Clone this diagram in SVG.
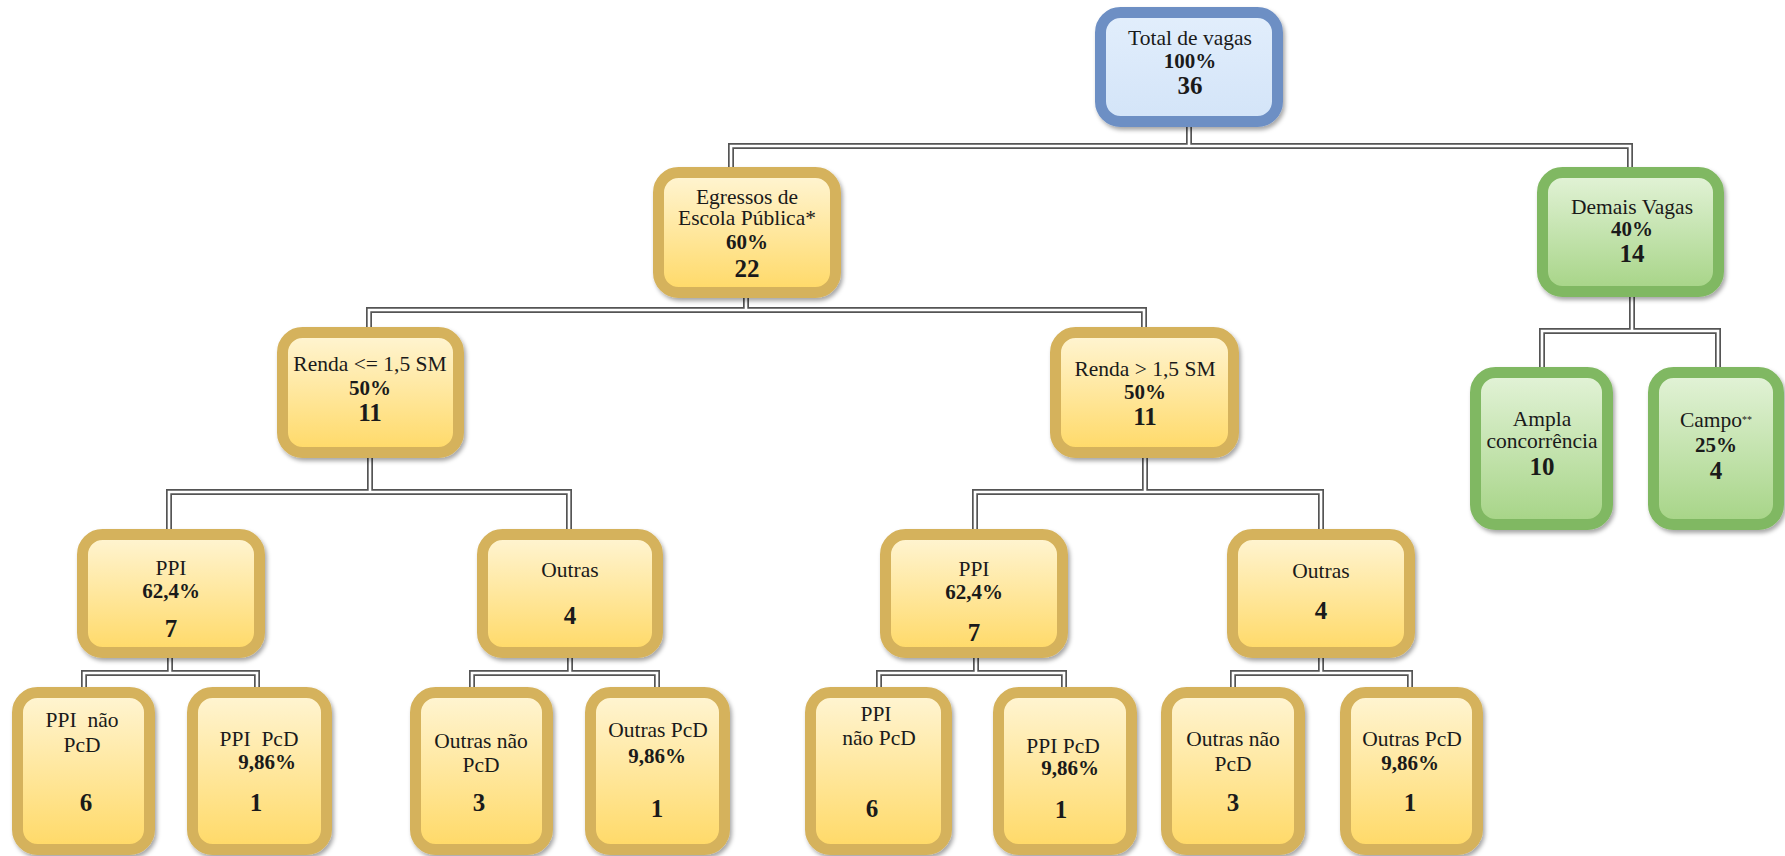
<svg xmlns="http://www.w3.org/2000/svg" width="1785" height="856" viewBox="0 0 1785 856">
<defs>
<linearGradient id="gGold" x1="0" y1="0" x2="0" y2="1"><stop offset="0" stop-color="#fff5d4"/><stop offset="1" stop-color="#ffd966"/></linearGradient>
<linearGradient id="gGreen" x1="0" y1="0" x2="0" y2="1"><stop offset="0" stop-color="#e3f3d8"/><stop offset="1" stop-color="#a6d486"/></linearGradient>
<linearGradient id="gBlue" x1="0" y1="0" x2="0" y2="1"><stop offset="0" stop-color="#e2eefc"/><stop offset="1" stop-color="#d3e4f8"/></linearGradient>
<filter id="sh" x="-10%" y="-10%" width="125%" height="125%"><feDropShadow dx="2" dy="3" stdDeviation="2" flood-color="#000" flood-opacity="0.35"/></filter>
</defs>
<style>
.gold{fill:url(#gGold);stroke:#d5b25c;stroke-width:11;filter:url(#sh)}
.green{fill:url(#gGreen);stroke:#80b862;stroke-width:11;filter:url(#sh)}
.blue{fill:url(#gBlue);stroke:#6d8fc4;stroke-width:11;filter:url(#sh)}
text{font-family:"Liberation Serif","Times New Roman",serif;fill:#1a1a1a;text-anchor:middle}
.l{font-size:21.5px}
.p{font-size:21px;font-weight:bold}
.n{font-size:25px;font-weight:bold}
.cd{fill:none;stroke:#555;stroke-width:6}
.cw{fill:none;stroke:#fff;stroke-width:2.6}
</style>
<rect width="1785" height="856" fill="#fff"/>
<g id="connectors">
<g class="cd">
<path d="M1189,127V146M731,167V146H1630V167"/>
<path d="M746,298V310M369,327V310H1144V327"/>
<path d="M1632,297V331M1542,367V331H1718V367"/>
<path d="M370,458V492M169,529V492H569V529"/>
<path d="M1145,458V492M975,529V492H1321V529"/>
<path d="M170,658V673M84,687V673H257V687"/>
<path d="M570,658V673M472,687V673H657V687"/>
<path d="M976,658V673M879,687V673H1064V687"/>
<path d="M1321,658V673M1233,687V673H1410V687"/>
</g>
<g class="cw">
<path d="M1189,127V146M731,167V146H1630V167"/>
<path d="M746,298V310M369,327V310H1144V327"/>
<path d="M1632,297V331M1542,367V331H1718V367"/>
<path d="M370,458V492M169,529V492H569V529"/>
<path d="M1145,458V492M975,529V492H1321V529"/>
<path d="M170,658V673M84,687V673H257V687"/>
<path d="M570,658V673M472,687V673H657V687"/>
<path d="M976,658V673M879,687V673H1064V687"/>
<path d="M1321,658V673M1233,687V673H1410V687"/>
</g>
</g>
<g id="root"><rect class="blue" x="1100.5" y="12.5" width="177" height="109" rx="20"/>
<text class="l" x="1190" y="45">Total de vagas</text><text class="p" x="1190" y="68">100%</text><text class="n" x="1190" y="94">36</text></g>
<g id="egressos"><rect class="gold" x="658.5" y="172.5" width="177" height="120" rx="20"/>
<text class="l" x="747" y="204">Egressos de</text><text class="l" x="747" y="225">Escola Pública*</text><text class="p" x="747" y="249">60%</text><text class="n" x="747" y="277">22</text></g>
<g id="demais"><rect class="green" x="1542.5" y="172.5" width="176" height="119" rx="20"/>
<text class="l" x="1632" y="214">Demais Vagas</text><text class="p" x="1632" y="236">40%</text><text class="n" x="1632" y="262">14</text></g>
<g id="renda1"><rect class="gold" x="282.5" y="332.5" width="176" height="120" rx="20"/>
<text class="l" x="370" y="371">Renda &lt;= 1,5 SM</text><text class="p" x="370" y="395">50%</text><text class="n" x="370" y="421">11</text></g>
<g id="renda2"><rect class="gold" x="1055.5" y="332.5" width="178" height="120" rx="20"/>
<text class="l" x="1145" y="376">Renda &gt; 1,5 SM</text><text class="p" x="1145" y="399">50%</text><text class="n" x="1145" y="425">11</text></g>
<g id="ampla"><rect class="green" x="1475.5" y="372.5" width="132" height="152" rx="20"/>
<text class="l" x="1542" y="426">Ampla</text><text class="l" x="1542" y="447.5">concorrência</text><text class="n" x="1542" y="475">10</text></g>
<g id="campo"><rect class="green" x="1653.5" y="372.5" width="125" height="152" rx="20"/>
<text class="l" x="1716" y="427">Campo<tspan font-size="10" dy="-4">**</tspan></text><text class="p" x="1716" y="452">25%</text><text class="n" x="1716" y="479">4</text></g>
<g id="ppi1"><rect class="gold" x="82.5" y="534.5" width="177" height="118" rx="20"/>
<text class="l" x="171" y="575">PPI</text><text class="p" x="171" y="598">62,4%</text><text class="n" x="171" y="637">7</text></g>
<g id="outras1"><rect class="gold" x="482.5" y="534.5" width="175" height="118" rx="20"/>
<text class="l" x="570" y="577">Outras</text><text class="n" x="570" y="624">4</text></g>
<g id="ppi2"><rect class="gold" x="885.5" y="534.5" width="177" height="118" rx="20"/>
<text class="l" x="974" y="576">PPI</text><text class="p" x="974" y="599">62,4%</text><text class="n" x="974" y="641">7</text></g>
<g id="outras2"><rect class="gold" x="1232.5" y="534.5" width="177" height="118" rx="20"/>
<text class="l" x="1321" y="578">Outras</text><text class="n" x="1321" y="619">4</text></g>
<g id="ppinao1"><rect class="gold" x="17.5" y="692.5" width="132" height="157" rx="20"/>
<text class="l" x="82" y="727" xml:space="preserve">PPI  não</text><text class="l" x="82" y="752">PcD</text><text class="n" x="86" y="811">6</text></g>
<g id="ppipcd1"><rect class="gold" x="192.5" y="692.5" width="134" height="157" rx="20"/>
<text class="l" x="259" y="746" xml:space="preserve">PPI  PcD</text><text class="p" x="267" y="769">9,86%</text><text class="n" x="256" y="811">1</text></g>
<g id="outrasnao1"><rect class="gold" x="415.5" y="692.5" width="132" height="157" rx="20"/>
<text class="l" x="481" y="748">Outras não</text><text class="l" x="481" y="772">PcD</text><text class="n" x="479" y="811">3</text></g>
<g id="outraspcd1"><rect class="gold" x="590.5" y="692.5" width="134" height="157" rx="20"/>
<text class="l" x="658" y="737">Outras PcD</text><text class="p" x="657" y="763">9,86%</text><text class="n" x="657" y="817">1</text></g>
<g id="ppinao2"><rect class="gold" x="810.5" y="692.5" width="136" height="157" rx="20"/>
<text class="l" x="876" y="721">PPI</text><text class="l" x="879" y="745">não PcD</text><text class="n" x="872" y="817">6</text></g>
<g id="ppipcd2"><rect class="gold" x="998.5" y="692.5" width="133" height="157" rx="20"/>
<text class="l" x="1063" y="753">PPI PcD</text><text class="p" x="1070" y="775">9,86%</text><text class="n" x="1061" y="818">1</text></g>
<g id="outrasnao2"><rect class="gold" x="1166.5" y="692.5" width="133" height="157" rx="20"/>
<text class="l" x="1233" y="746">Outras não</text><text class="l" x="1233" y="771">PcD</text><text class="n" x="1233" y="811">3</text></g>
<g id="outraspcd2"><rect class="gold" x="1345.5" y="692.5" width="132" height="157" rx="20"/>
<text class="l" x="1412" y="746">Outras PcD</text><text class="p" x="1410" y="770">9,86%</text><text class="n" x="1410" y="811">1</text></g>
</svg>
